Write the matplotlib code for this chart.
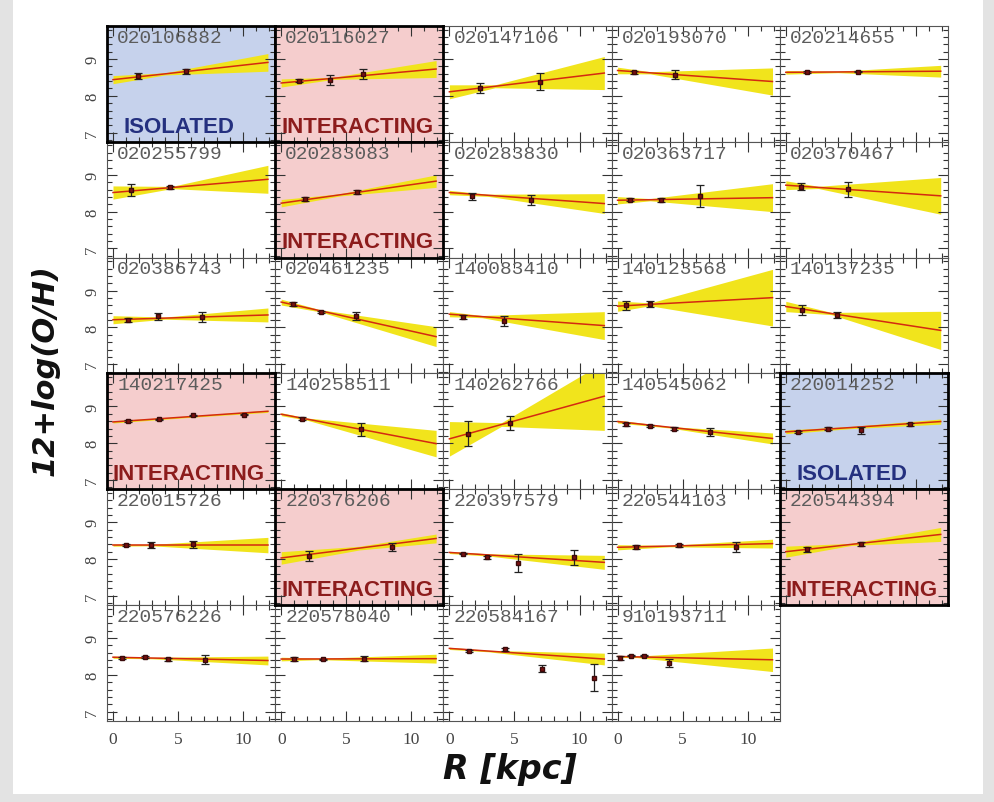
import matplotlib
matplotlib.use('Agg')
import matplotlib.pyplot as plt
from matplotlib.patches import Rectangle
from matplotlib.ticker import MultipleLocator, FixedLocator

# ---------------- data ----------------
panel_ids = ["020106882", "020116027", "020147106", "020193070", "020214655",
             "020255799", "020283083", "020283830", "020363717", "020370467",
             "020386743", "020461235", "140083410", "140123568", "140137235",
             "140217425", "140258511", "140262766", "140545062", "220014252",
             "220015726", "220376206", "220397579", "220544103", "220544394",
             "220576226", "220578040", "220584167", "910193711"]

panel_env = ["ISOLATED", "INTERACTING", "", "", "",
             "", "INTERACTING", "", "", "",
             "", "", "", "", "",
             "INTERACTING", "", "", "", "ISOLATED",
             "", "INTERACTING", "", "", "INTERACTING",
             "", "", "", ""]

# measured points (R in kpc, 12+log(O/H), error)
pts_r = [[1.95, 5.6], [1.33, 3.77, 6.28], [2.33, 6.95], [1.26, 4.44], [1.6, 5.56],
         [1.36, 4.38], [1.85, 5.82], [1.74, 6.28], [0.92, 3.3, 6.36], [1.15, 4.79],
         [1.13, 3.49, 6.82], [0.9, 3.08, 5.77], [1.02, 4.23], [0.67, 2.51], [1.26, 3.95],
         [1.18, 3.56, 6.18, 10.1], [1.59, 6.13], [1.44, 4.64], [0.67, 2.51, 4.33, 7.08],
         [0.95, 3.25, 5.77, 9.54],
         [1.0, 2.9, 6.18], [2.1, 8.5], [1.02, 2.9, 5.25, 9.56], [1.38, 4.69, 9.13], [1.6, 5.77],
         [0.67, 2.46, 4.26, 7.03], [1.02, 3.18, 6.38], [1.48, 4.3, 7.13, 11.1],
         [0.2, 1.05, 2.02, 3.95]]
pts_oh = [[8.53, 8.67], [8.41, 8.43, 8.60], [8.21, 8.39], [8.64, 8.57], [8.64, 8.66],
          [8.59, 8.66], [8.34, 8.54], [8.42, 8.31], [8.33, 8.31, 8.43], [8.68, 8.61],
          [8.21, 8.30, 8.28], [8.64, 8.43, 8.30], [8.28, 8.18], [8.60, 8.63], [8.48, 8.34],
          [8.60, 8.65, 8.76, 8.78], [8.67, 8.38], [8.26, 8.55], [8.51, 8.47, 8.40, 8.31],
          [8.31, 8.40, 8.35, 8.51],
          [8.38, 8.38, 8.40], [8.08, 8.33], [8.15, 8.05, 7.90, 8.05], [8.32, 8.37, 8.32], [8.26, 8.41],
          [8.46, 8.48, 8.42, 8.41], [8.43, 8.42, 8.44], [8.64, 8.69, 8.17, 7.92],
          [8.45, 8.52, 8.52, 8.32]]
pts_err = [[0.08, 0.07], [0.04, 0.14, 0.14], [0.13, 0.23], [0.04, 0.12], [0.03, 0.02],
           [0.16, 0.04], [0.05, 0.05], [0.10, 0.13], [0.05, 0.06, 0.29], [0.09, 0.20],
           [0.05, 0.10, 0.14], [0.05, 0.03, 0.11], [0.05, 0.13], [0.13, 0.08], [0.14, 0.08],
           [0.02, 0.02, 0.02, 0.02], [0.04, 0.17], [0.34, 0.19], [0.03, 0.03, 0.03, 0.11],
           [0.02, 0.03, 0.10, 0.04],
           [0.03, 0.09, 0.09], [0.14, 0.11], [0.02, 0.04, 0.24, 0.20], [0.05, 0.03, 0.14], [0.08, 0.05],
           [0.02, 0.03, 0.04, 0.12], [0.05, 0.02, 0.07], [0.03, 0.03, 0.09, 0.37],
           [0.05, 0.02, 0.02, 0.11]]

# fitted gradient: value at R=0 and at R=11.9 kpc
fit_start = [8.44, 8.35, 8.11, 8.69, 8.64, 8.52, 8.23, 8.52, 8.31, 8.72,
             8.21, 8.69, 8.36, 8.58, 8.57, 8.58, 8.79, 8.12, 8.59, 8.31,
             8.38, 8.03, 8.18, 8.32, 8.20, 8.48, 8.43, 8.72, 8.50]
fit_end = [8.91, 8.73, 8.62, 8.39, 8.67, 8.88, 8.83, 8.22, 8.38, 8.43,
           8.34, 7.75, 8.05, 8.81, 7.92, 8.87, 7.99, 9.28, 8.13, 8.59,
           8.38, 8.56, 7.91, 8.42, 8.67, 8.39, 8.44, 8.43, 8.41]
# confidence band half-width: at R=0, at the pivot radius, and at R=11.9
band_w0 = [0.11, 0.11, 0.19, 0.09, 0.05, 0.18, 0.10, 0.06, 0.10, 0.12,
           0.11, 0.08, 0.07, 0.14, 0.14, 0.03, 0.04, 0.47, 0.04, 0.05,
           0.03, 0.17, 0.03, 0.07, 0.15, 0.03, 0.05, 0.03, 0.03]
band_rp = [4.0, 4.0, 3.5, 2.5, 4.0, 4.5, 4.5, 3.0, 2.5, 2.5,
           4.0, 3.0, 2.5, 2.5, 3.5, 6.0, 2.0, 4.0, 4.0, 5.0,
           3.0, 6.0, 3.0, 4.0, 5.0, 3.0, 3.0, 3.0, 1.5]
band_wp = [0.03, 0.03, 0.04, 0.03, 0.02, 0.03, 0.03, 0.03, 0.03, 0.03,
           0.03, 0.03, 0.03, 0.04, 0.03, 0.02, 0.03, 0.05, 0.02, 0.03,
           0.02, 0.05, 0.03, 0.02, 0.03, 0.02, 0.02, 0.02, 0.02]
band_w1 = [0.24, 0.23, 0.45, 0.37, 0.16, 0.38, 0.17, 0.27, 0.38, 0.50,
           0.19, 0.27, 0.38, 0.77, 0.52, 0.03, 0.36, 0.93, 0.15, 0.07,
           0.21, 0.12, 0.19, 0.12, 0.19, 0.12, 0.12, 0.16, 0.32]

x_ticks = [0, 5, 10]
y_ticks = [7, 8, 9]

# ---------------- figure ----------------
W, H = 994, 803
fig = plt.figure(figsize=(W / 100, H / 100), dpi=100, facecolor='#e3e3e3')
fig.patches.append(Rectangle((13 / W, 1 - 795 / H), (983 - 13) / W, 795 / H,
                             transform=fig.transFigure, facecolor='white',
                             edgecolor='none', zorder=-10))

env_bg = {"ISOLATED": "#c6d2ec", "INTERACTING": "#f5cdcd"}
env_fg = {"ISOLATED": "#24307f", "INTERACTING": "#8c1c1c"}
env_dx = {"ISOLATED": 0.10, "INTERACTING": 0.035}

left0, top0, cw, rh = 107, 27, 168.2, 115.8
R_END = 11.9
nrow_last = (len(panel_ids) - 1) // 5

for i, pid in enumerate(panel_ids):
    r, c = divmod(i, 5)
    ax = fig.add_axes([(left0 + c * cw) / W, 1 - (top0 + (r + 1) * rh) / H, cw / W, rh / H])
    env = panel_env[i]
    ax.set_facecolor(env_bg.get(env, 'white'))
    ax.set_xlim(-0.46, 12.46)
    ax.set_ylim(6.75, 9.9)

    # fit line and band
    y0, y1 = fit_start[i], fit_end[i]
    rp = band_rp[i]
    yp = y0 + (y1 - y0) * rp / R_END
    xs = [0, rp, R_END]
    ys = [y0, yp, y1]
    ws = [band_w0[i], band_wp[i], band_w1[i]]
    ax.fill_between(xs, [a - w for a, w in zip(ys, ws)], [a + w for a, w in zip(ys, ws)],
                    color='#f1e41c', lw=0, zorder=1)
    ax.plot([0, R_END], [y0, y1], color='#d42a10', lw=1.1, zorder=2)
    ax.errorbar(pts_r[i], pts_oh[i], yerr=pts_err[i], fmt='s', ms=3.2,
                mfc='#7a1010', mec='#3a0a0a', ecolor='#222222', elinewidth=0.9,
                capsize=3, capthick=0.9, zorder=3)

    ax.text(0.06, 0.975, pid, transform=ax.transAxes, ha='left', va='top',
            fontsize=14, family='Liberation Mono', color='#5c5c5c', zorder=4)
    if env:
        ax.text(env_dx[env], 0.045, env, transform=ax.transAxes, ha='left', va='bottom',
                fontsize=16, family='Liberation Sans', fontweight='bold',
                color=env_fg[env], zorder=4)

    ax.xaxis.set_major_locator(FixedLocator(x_ticks))
    ax.xaxis.set_minor_locator(MultipleLocator(1))
    ax.yaxis.set_major_locator(FixedLocator(y_ticks))
    ax.yaxis.set_minor_locator(MultipleLocator(0.2))
    ax.tick_params(which='both', direction='in', top=True, right=True,
                   bottom=True, left=True, color='#333333', width=0.8,
                   labelbottom=False, labelleft=False)
    ax.tick_params(which='major', length=7)
    ax.tick_params(which='minor', length=3.5)

    if c == 0:
        ax.tick_params(axis='y', labelleft=True, labelsize=12, labelcolor='#444444', pad=5)
        for lab in ax.get_yticklabels():
            lab.set_rotation(90)
            lab.set_va('center')
            lab.set_family('Liberation Serif')
    if r == nrow_last:
        ax.tick_params(axis='x', labelbottom=True, labelsize=12.5, labelcolor='#444444', pad=7)
        for lab in ax.get_xticklabels():
            lab.set_family('Liberation Serif')

    if env:
        ax.set_zorder(3)
        for sp in ax.spines.values():
            sp.set_linewidth(2.0)
            sp.set_color('black')
    else:
        ax.set_zorder(1)
        for sp in ax.spines.values():
            sp.set_linewidth(0.8)
            sp.set_color('#555555')

fig.text(45 / W, 1 - 370 / H, "12+log(O/H)", rotation=90, ha='center', va='center',
         fontsize=22, family='DejaVu Sans', fontweight='bold', style='italic', color='#111111')
fig.text(510 / W, 1 - 770 / H, "R [kpc]", ha='center', va='center',
         fontsize=24, family='DejaVu Sans', fontweight='bold', style='italic', color='#111111')

fig.savefig('out.png', dpi=100, facecolor=fig.get_facecolor())
